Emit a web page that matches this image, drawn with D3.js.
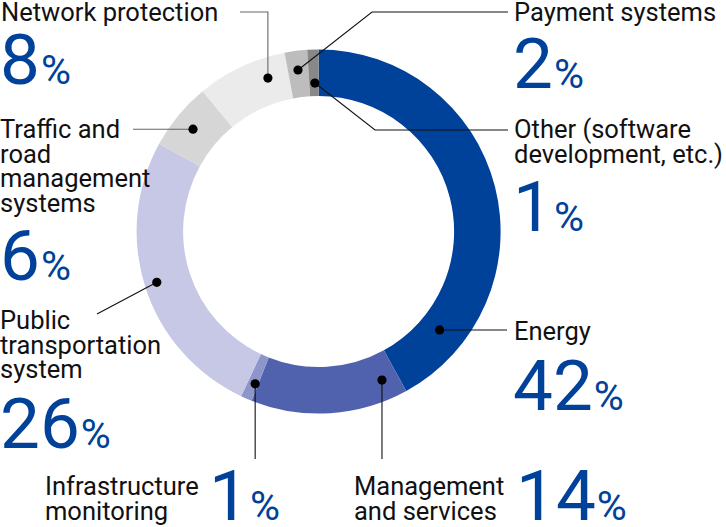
<!DOCTYPE html>
<html>
<head>
<meta charset="utf-8">
<script src="https://cdn.jsdelivr.net/npm/d3@7"></script>
<style>
html,body{margin:0;padding:0;background:#fff;}
svg{display:block;}
text{font-family:Roboto,"Noto Sans",sans-serif;}
</style>
</head>
<body>
<svg id="chart" width="726" height="527"></svg>
<script>
// ---- data ----
const categories = ["Energy","Management and services","Infrastructure monitoring","Public transportation system","Traffic and road management systems","Network protection","Payment systems","Other (software development, etc.)"];
const values = [42, 14, 1, 26, 6, 8, 2, 1];
const labelLines = [
  ["Energy"],
  ["Management","and services"],
  ["Infrastructure","monitoring"],
  ["Public","transportation","system"],
  ["Traffic and","road","management","systems"],
  ["Network protection"],
  ["Payment systems"],
  ["Other (software","development, etc.)"]
];
const colors = ["#00419a","#5062ad","#8e95ca","#c6c8e6","#d6d6d6","#ebebeb","#bdbdbd","#888888"];

// ---- layout (style) ----
const W = 726, H = 527;
const cx = 318.6, cy = 231.5, R = 182, r0 = 135.5;
const labelSize = 25.5, lineH = 24.7, numSize = 71, pctSize = 41;
const blue = "#00419a";
// per-slice: position of marker within slice (fraction of span) and radius
const dotFrac = [0.854, 0.113, 0.28, 0.506, 0.48, 0.74, 0.49, 0.6];
const dotRad  = [156, 161.5, 165, 169.6, 162, 161.6, 162.8, 148.5];
// label blocks: x, first baseline, number x, number baseline
const labelPos = [
  {x:514, y:340, nx:513, ny:410},
  {x:354, y:495, nx:516, ny:520},
  {x:45,  y:495, nx:209, ny:520},
  {x:0,   y:329, nx:0,   ny:448},
  {x:0,   y:138, nx:0,   ny:280},
  {x:1,   y:21,  nx:0,   ny:84},
  {x:514, y:21,  nx:513, ny:88},
  {x:514, y:138, nx:513, ny:231}
];

const svg = d3.select("#chart");
const g = svg.append("g").attr("transform", `translate(${cx},${cy})`);

const pie = d3.pie().sort(null).value(d => d);
const arcs = pie(values);
const arc = d3.arc().innerRadius(r0).outerRadius(R);

g.selectAll("path.slice").data(arcs).join("path")
  .attr("class","slice")
  .attr("d", arc)
  .attr("fill", (d,i) => colors[i]);

// marker points
const dots = arcs.map((a,i) => {
  const ang = a.startAngle + dotFrac[i]*(a.endAngle - a.startAngle);
  return [cx + dotRad[i]*Math.sin(ang), cy - dotRad[i]*Math.cos(ang)];
});

// leader lines (elbows are layout)
const leaders = [
  p => [p, [507, p[1]]],
  p => [p, [p[0], 459]],
  p => [p, [p[0], 459]],
  p => [p, [97, 314]],
  p => [p, [133, p[1]]],
  p => [p, [p[0], 12], [240, 12]],
  p => [p, [372, 12], [508, 12]],
  p => [p, [375, 130], [508, 130]]
];
const line = d3.line();
svg.append("g").selectAll("path").data(dots).join("path")
  .attr("d", (p,i) => line(leaders[i](p)))
  .attr("fill","none")
  .attr("stroke", (p,i) => (i===4||i===5) ? "#666" : "#111")
  .attr("stroke-width", 1.1);

svg.append("g").selectAll("circle").data(dots).join("circle")
  .attr("cx", p => p[0]).attr("cy", p => p[1]).attr("r", 4.6)
  .attr("fill", "#000");

// labels
const lg = svg.append("g");
categories.forEach((c,i) => {
  const lp = labelPos[i];
  const t = lg.append("text")
    .attr("x", lp.x).attr("y", lp.y)
    .attr("font-size", labelSize).attr("fill","#111");
  labelLines[i].forEach((ln,k) => {
    t.append("tspan").attr("x", lp.x).attr("y", lp.y + k*lineH).text(ln);
  });
  const n = lg.append("text").attr("x", lp.nx).attr("y", lp.ny).attr("fill", blue);
  n.append("tspan").attr("font-size", numSize).text(values[i]);
  n.append("tspan").attr("font-size", pctSize).attr("dx", 1).text("%");
});
</script>
</body>
</html>
